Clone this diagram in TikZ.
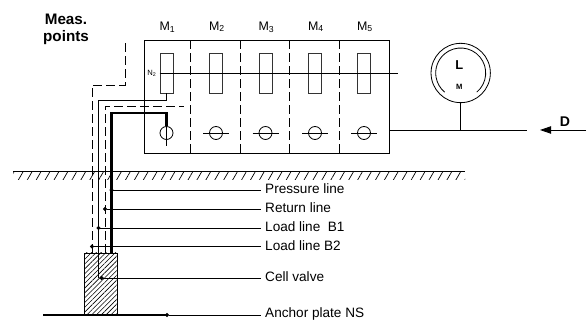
\documentclass[tikz,border=0pt]{standalone}
\usepackage{fontspec}
\setmainfont{Liberation Sans}
\usepackage{tikz}
\usetikzlibrary{arrows.meta, calc, patterns.meta}
\tikzstyle{frame_box} = [rectangle, minimum width=7.35cm, minimum height=3.375cm, inner sep=0pt, draw=black, line width=0.7pt]
\tikzstyle{cell} = [rectangle, minimum width=0.39cm, minimum height=1.19cm, inner sep=0pt, draw=black!80, line width=0.7pt]
\tikzstyle{valve} = [circle, minimum size=0.39cm, inner sep=0pt, draw=black, line width=0.7pt]
\tikzstyle{head} = [font=\fontsize{10.6}{12}\selectfont, inner sep=0pt]
\tikzstyle{line_label} = [anchor=west, font=\fontsize{11.6}{13}\selectfont, text height=8.5pt, text depth=2.5pt, inner sep=3.4pt]
\tikzstyle{line_thin} = [line width=0.7pt]
\tikzstyle{line_thick} = [line width=2pt]
\tikzstyle{line_dashed} = [line width=0.7pt, dash pattern=on 0.27cm off 0.12cm]
\tikzstyle{leader} = [line width=0.7pt, {Circle[length=3.5pt]}-, shorten <=-1.75pt]

\begin{document}
\begin{tikzpicture}[x=0.03cm, y=0.03cm]
	\useasboundingbox (0,0) rectangle (587,320);

		\node (frame) at (266.5,223.25) [frame_box] {};

		\node (cell1) at (166.5,246.75) [cell] {};
		\node (cell2) at ($(cell1)+(49.5,0)$) [cell] {};
		\node (cell3) at ($(cell2)+(49.5,0)$) [cell] {};
		\node (cell4) at ($(cell3)+(49.5,0)$) [cell] {};
		\node (cell5) at ($(cell4)+(49,0)$) [cell] {};

		\node (valve1) at ($(cell1)-(0,59.75)$) [valve] {};
		\node (valve2) at ($(cell2)-(0,59.75)$) [valve] {};
		\node (valve3) at ($(cell3)-(0,59.75)$) [valve] {};
		\node (valve4) at ($(cell4)-(0,59.75)$) [valve] {};
		\node (valve5) at ($(cell5)-(0,59.75)$) [valve] {};

		\node (M1) at ($(cell1)+(1,46)$) [head] {M\textsubscript{1}};
		\node (M2) at ($(cell2)+(1,46.5)$) [head] {M\textsubscript{2}};
		\node (M3) at ($(cell3)+(1,46)$) [head] {M\textsubscript{3}};
		\node (M4) at ($(cell4)+(1,46.5)$) [head] {M\textsubscript{4}};
		\node (M5) at ($(cell5)+(1,46.5)$) [head] {M\textsubscript{5}};

		\node (N2) at (152,246.75) [inner sep=0pt, font=\fontsize{6.5}{7}\selectfont] {N\textsubscript{2}};
		\node (meas) at (66,291) [align=center, inner sep=0pt, font=\fontsize{13}{14.4}\selectfont\bfseries] {Meas.\\points};

		\node (gauge) at (460.7,247) [circle, minimum size=1.78cm, inner sep=0pt, draw=black, line width=0.7pt] {};
		\node (gauge_L) at ($(gauge)+(-1.5,8)$) [inner sep=0pt, font=\fontsize{11}{12}\selectfont\bfseries] {L};
		\node (gauge_M) at ($(gauge)+(-1.5,-14)$) [inner sep=0pt, font=\fontsize{6.5}{7}\selectfont\bfseries] {M};
		\node (D) at (565,198.5) [inner sep=0pt, font=\fontsize{12}{13}\selectfont\bfseries] {D};

		\coordinate (main_end) at (526.7,190);
		\coordinate (main_tee) at (460.7,190);
		\coordinate (in_start) at (586,190);
		\coordinate (in_tip) at (540,190);
		\coordinate (n2_end) at (397.6,246.75);
		\coordinate (n2_start) at (159.5,246.75);
		\coordinate (pipe_top) at (166.5,207);

		\node (ground) at (239.25,144) [rectangle, minimum width=13.545cm, minimum height=0.24cm, inner sep=0pt, pattern={Lines[angle=60, distance=6.6pt, line width=0.6pt]}] {};

		\node (block) at (101,36) [rectangle, minimum width=0.99cm, minimum height=1.86cm, inner sep=0pt, draw=black, line width=0.7pt, pattern={Lines[angle=45, distance=2.9pt, line width=0.5pt]}] {};

		\node (pressure) at (261,130) [line_label] {Pressure line};
		\node (return) at (261,111) [line_label] {Return line};
		\node (load1) at (261,92) [line_label] {Load line\ \ B1};
		\node (load2) at (261,73.5) [line_label] {Load line B2};
		\node (cellvalve) at (261,42) [line_label] {Cell valve};
		\node (anchor) at (261,6.5) [line_label] {Anchor plate NS};

		\coordinate (pressure_dot) at (111.5,130);
		\coordinate (return_dot) at (105,111);
		\coordinate (load1_dot) at (98.5,92);
		\coordinate (load2_dot) at (92,73.5);
		\coordinate (cellvalve_dot) at (101.6,42);
		\coordinate (anchor_dot) at (167,5);
		\coordinate (anchor_start) at (43,5);

		% The dividers between the cells
		\draw [line_dashed] ($(frame.north west)+(47,0)$) -- ($(frame.south west)+(47,0)$);
		\draw [line_dashed] ($(frame.north west)+(96.5,0)$) -- ($(frame.south west)+(96.5,0)$);
		\draw [line_dashed] ($(frame.north west)+(146,0)$) -- ($(frame.south west)+(146,0)$);
		\draw [line_dashed] ($(frame.north west)+(195.5,0)$) -- ($(frame.south west)+(195.5,0)$);

		% Crossing lines of the valves
		\draw [line_thin] (n2_start) -- (n2_end);
		\draw [line_thin] ($(valve2)-(13,0)$) -- ($(valve2)+(13,0)$);
		\draw [line_thin] ($(valve3)-(13,0)$) -- ($(valve3)+(13,0)$);
		\draw [line_thin] ($(valve4)-(13,0)$) -- ($(valve4)+(13,0)$);
		\draw [line_thin] ($(valve5)-(13,0)$) -- ($(valve5)+(13,0)$);

		% The lines going down to the cell
		\draw [line_thick] (block.north -| pressure_dot) |- (pipe_top) -- (valve1.north);
		\draw [line_thin] (valve1.north) -- ($(valve1.south)-(0,6.5)$);
		\draw [line_dashed] (block.north -| return_dot) |- (184,214);
		\draw [line_thin] (98.5,42) |- (166.5,219.5) -- (cell1.south);
		\draw [line_dashed] (block.north -| load2_dot) |- (125,235) -- (125,280);

		% Gauge
		\draw [line_thin] ($(gauge)+(-50:0.75cm)$) arc[start angle=-50, end angle=230, radius=0.75cm];
		\draw [line_thin] (gauge.south) -- (main_tee);
		\draw [line_thin] (frame.east |- main_end) -- (main_end);
		\draw [line_thin, -{Triangle[length=0.33cm, width=0.22cm]}] (in_start) -- (in_tip);

		% Ground
		\draw [line_thin] (ground.north west) -- (ground.north east);

		% Leader lines
		\draw [leader] (pressure_dot) -- (pressure.west);
		\draw [leader] (return_dot) -- (return.west);
		\draw [leader] (load1_dot) -- (load1.west);
		\draw [leader] (load2_dot) -- (load2.west);
		\draw [leader] (cellvalve_dot) -- (cellvalve.west);
		\draw [line_thick] (anchor_start) -- (anchor_dot);
		\draw [leader] (anchor_dot) -- (anchor.west |- anchor_dot);

\end{tikzpicture}
\end{document}
